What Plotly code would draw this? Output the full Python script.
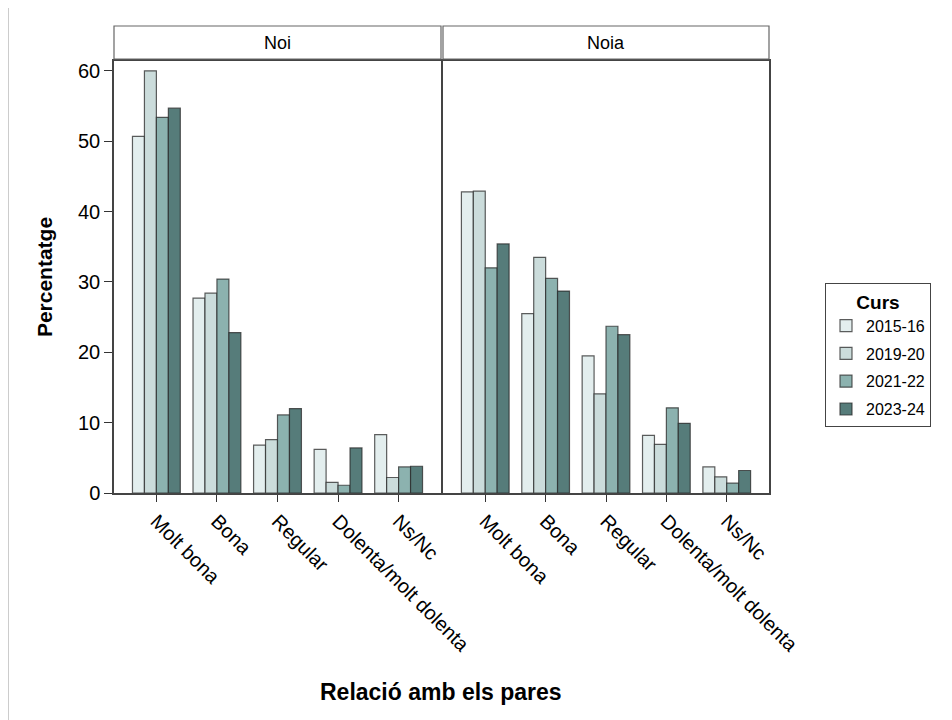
import plotly.graph_objects as go

categories = ["Molt bona", "Bona", "Regular", "Dolenta/molt dolenta", "Ns/Nc"]
courses = ["2015-16", "2019-20", "2021-22", "2023-24"]
panels = ["Noi", "Noia"]

noi_2015 = [50.7, 27.7, 6.8, 6.2, 8.3]
noi_2019 = [60.0, 28.4, 7.6, 1.5, 2.2]
noi_2021 = [53.4, 30.4, 11.1, 1.1, 3.7]
noi_2023 = [54.7, 22.8, 12.0, 6.4, 3.8]

noia_2015 = [42.8, 25.5, 19.5, 8.2, 3.7]
noia_2019 = [42.9, 33.5, 14.1, 6.9, 2.3]
noia_2021 = [32.0, 30.5, 23.7, 12.1, 1.4]
noia_2023 = [35.4, 28.7, 22.5, 9.9, 3.2]

colors = ["#e3eeee", "#cbdcdb", "#8cb2af", "#567c7a"]

FONT = "Liberation Sans, Arial, sans-serif"
NARROW = "Liberation Sans Narrow, Liberation Sans, Arial, sans-serif"

series = {
    "Noi": [noi_2015, noi_2019, noi_2021, noi_2023],
    "Noia": [noia_2015, noia_2019, noia_2021, noia_2023],
}

fig = go.Figure()
for pi, panel in enumerate(panels):
    xa = "x" if pi == 0 else "x2"
    ya = "y" if pi == 0 else "y2"
    for ci, course in enumerate(courses):
        fig.add_trace(go.Bar(
            x=categories, y=series[panel][ci], name=course,
            marker=dict(color=colors[ci], line=dict(color="rgba(40,40,40,0.75)", width=1.2)),
            xaxis=xa, yaxis=ya, showlegend=(pi == 0), legendgroup=course,
        ))

# page body has an 8px margin: screen pixel p -> figure pixel p - 8
OFF = 8
W, H = 944, 712
L, R, T, B = 106, 183, 53, 227
pw = W - L - R
ph = H - T - B

def px2x(p):
    return (p - OFF - L) / pw

def px2y(p):
    return (H - B - (p - OFF)) / ph

axis_common = dict(
    type="category", range=[-0.7, 4.7], showgrid=False, zeroline=False,
    ticks="outside", ticklen=7, tickcolor="#333", tickangle=45,
    showline=True, linecolor="#444", linewidth=1.5, mirror=True,
    tickfont=dict(family=FONT, size=20, color="black"),
)
fig.update_layout(
    width=W, height=H,
    margin=dict(l=L, r=R, t=T, b=B),
    paper_bgcolor="white", plot_bgcolor="white",
    barmode="group", bargap=0.21, bargroupgap=0,
    xaxis=dict(domain=[0, px2x(441)], **axis_common),
    xaxis2=dict(domain=[px2x(443), 1], **axis_common),
    yaxis=dict(range=[0, 61.4], anchor="x", showgrid=False, zeroline=False,
               ticks="outside", ticklen=8, tickcolor="#333",
               tickvals=[0, 10, 20, 30, 40, 50, 60],
               showline=True, linecolor="#444", linewidth=1.5, mirror=True,
               tickfont=dict(family=FONT, size=20, color="black"),
               title=dict(text="<b>Percentatge</b>", standoff=20,
                          font=dict(family=FONT, size=21, color="black"))),
    yaxis2=dict(range=[0, 61.4], anchor="x2", showgrid=False, zeroline=False,
                showticklabels=False, ticks="",
                showline=True, linecolor="#444", linewidth=1.5, mirror=True),
    legend=dict(
        x=px2x(825), y=px2y(283), xanchor="left", yanchor="top",
        bordercolor="#444", borderwidth=1, bgcolor="white",
        title=dict(text="<b>Curs</b>", side="top center",
                   font=dict(family=FONT, size=19, color="black")),
        font=dict(family=FONT, size=16, color="black"),
        tracegroupgap=4, itemwidth=30,
    ),
    font=dict(family=FONT, color="black"),
)

# facet strips
for x0, x1, label in [(114, 441, panels[0]), (443, 769, panels[1])]:
    fig.add_shape(type="rect", xref="paper", yref="paper",
                  x0=px2x(x0), x1=px2x(x1), y0=px2y(59), y1=px2y(26),
                  line=dict(color="#666", width=1.2), fillcolor="white")
    fig.add_annotation(xref="paper", yref="paper", x=(px2x(x0) + px2x(x1)) / 2,
                       y=(px2y(59) + px2y(26)) / 2, yanchor="middle", xanchor="center",
                       text=label, showarrow=False,
                       font=dict(family=NARROW, size=18, color="black"))

# x axis title
fig.add_annotation(xref="paper", yref="paper", x=px2x(441), y=px2y(692),
                   yanchor="middle", xanchor="center",
                   text="<b>Relació amb els pares</b>", showarrow=False,
                   font=dict(family=FONT, size=23, color="black"))

# left border line
fig.add_shape(type="line", xref="paper", yref="paper",
              x0=px2x(8), x1=px2x(8), y0=px2y(720), y1=px2y(0),
              line=dict(color="#999", width=1))

fig.write_html("out.html")
